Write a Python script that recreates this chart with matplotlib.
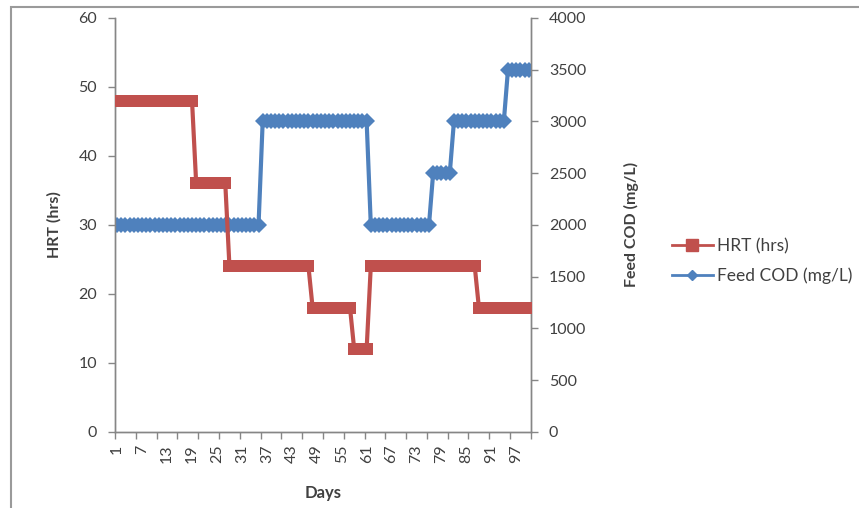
import matplotlib
matplotlib.use("Agg")
import matplotlib.pyplot as plt
from matplotlib.lines import Line2D
from matplotlib.patches import Rectangle
from matplotlib.ticker import FixedLocator

plt.rcParams['font.family'] = ['Lato', 'DejaVu Sans']

days = list(range(1, 101))

# hydraulic retention time, hours (days 1-100, ten per row)
hrt = [48, 48, 48, 48, 48, 48, 48, 48, 48, 48,
       48, 48, 48, 48, 48, 48, 48, 48, 48, 36,
       36, 36, 36, 36, 36, 36, 36, 24, 24, 24,
       24, 24, 24, 24, 24, 24, 24, 24, 24, 24,
       24, 24, 24, 24, 24, 24, 24, 18, 18, 18,
       18, 18, 18, 18, 18, 18, 18, 12, 12, 12,
       12, 24, 24, 24, 24, 24, 24, 24, 24, 24,
       24, 24, 24, 24, 24, 24, 24, 24, 24, 24,
       24, 24, 24, 24, 24, 24, 24, 18, 18, 18,
       18, 18, 18, 18, 18, 18, 18, 18, 18, 18]

# feed COD, mg/L
feed_cod = [2000, 2000, 2000, 2000, 2000, 2000, 2000, 2000, 2000, 2000,
            2000, 2000, 2000, 2000, 2000, 2000, 2000, 2000, 2000, 2000,
            2000, 2000, 2000, 2000, 2000, 2000, 2000, 2000, 2000, 2000,
            2000, 2000, 2000, 2000, 2000, 3000, 3000, 3000, 3000, 3000,
            3000, 3000, 3000, 3000, 3000, 3000, 3000, 3000, 3000, 3000,
            3000, 3000, 3000, 3000, 3000, 3000, 3000, 3000, 3000, 3000,
            3000, 2000, 2000, 2000, 2000, 2000, 2000, 2000, 2000, 2000,
            2000, 2000, 2000, 2000, 2000, 2000, 2500, 2500, 2500, 2500,
            2500, 3000, 3000, 3000, 3000, 3000, 3000, 3000, 3000, 3000,
            3000, 3000, 3000, 3000, 3500, 3500, 3500, 3500, 3500, 3500]

day_labels = list(range(1, 101, 6))

red = '#C0504D'
blue = '#4F81BD'
axis_grey = '#868686'
text_grey = '#404040'

fig = plt.figure(figsize=(8.59, 5.08), dpi=100)
fig.patches.append(Rectangle((11 / 859, -0.01), 1.0, 1 - 7 / 508 + 0.01,
                             transform=fig.transFigure, fill=False,
                             edgecolor='#9a9a9a', linewidth=1.5))

ax = fig.add_axes([0.134, 0.150, 0.484, 0.815])
ax2 = ax.twinx()
# keep the HRT line above the COD line
ax.set_zorder(ax2.get_zorder() + 1)
ax.patch.set_visible(False)

ax.plot(days, hrt, color=red, linewidth=3, marker='s', markersize=9,
        markeredgewidth=0, zorder=3)
ax2.plot(days, feed_cod, color=blue, linewidth=3, marker='D', markersize=8,
         markeredgewidth=0, zorder=3)

ax.set_xlim(0.5, 100.5)
ax.set_ylim(0, 60)
ax2.set_ylim(0, 4000)
ax.set_yticks(range(0, 61, 10))
ax2.set_yticks(range(0, 4001, 500))

# category labels every 6 days, tick marks between categories every 5
ax.set_xticks(day_labels)
ax.set_xticklabels([str(d) for d in day_labels], rotation=90)
ax.xaxis.set_minor_locator(FixedLocator([0.5 + 5 * k for k in range(21)]))
ax.tick_params(axis='x', which='major', length=0, pad=9)
ax.tick_params(axis='x', which='minor', length=5, color=axis_grey, width=1)

for a in (ax, ax2):
    a.tick_params(axis='y', length=5, color=axis_grey, width=1,
                  labelsize=11.5, labelcolor=text_grey, pad=8)
    a.spines['top'].set_visible(False)
    for side in ('left', 'right', 'bottom'):
        a.spines[side].set_color(axis_grey)
        a.spines[side].set_linewidth(1)
ax.tick_params(axis='x', labelsize=11.5, labelcolor=text_grey)

ax.set_xlabel('Days', fontsize=12, fontweight='bold', color=text_grey,
              labelpad=16)
ax.set_ylabel('HRT (hrs)', fontsize=11.5, fontweight='bold', color=text_grey,
              labelpad=12)
ax2.set_ylabel('Feed COD (mg/L)', fontsize=11.5, fontweight='bold',
               color=text_grey, labelpad=27)

handles = [Line2D([], [], color=red, linewidth=2, marker='s', markersize=9),
           Line2D([], [], color=blue, linewidth=2, marker='D', markersize=5)]
fig.legend(handles, ['HRT (hrs)', 'Feed COD (mg/L)'], loc='center left',
           bbox_to_anchor=(672 / 859, 0.486), frameon=False, fontsize=12.5,
           labelcolor=text_grey, handlelength=2.35, handletextpad=0.25,
           labelspacing=0.75, borderpad=0, borderaxespad=0)

fig.savefig('out.png', dpi=100)
